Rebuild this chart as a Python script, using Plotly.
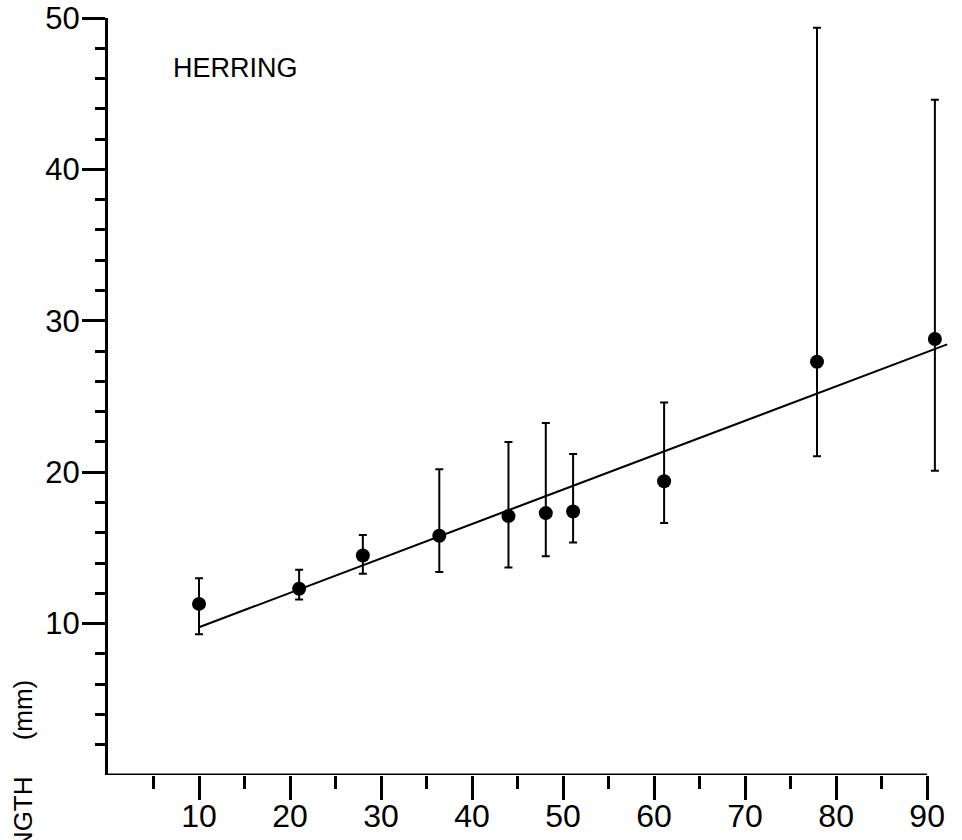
import plotly.graph_objects as go

# Data
age_x = [10, 21, 28, 36.4, 44, 48.1, 51.1, 61.1, 77.9, 90.85]
length_mean = [11.3, 12.3, 14.5, 15.8, 17.1, 17.3, 17.4, 19.4, 27.3, 28.8]
length_upper = [13.0, 13.55, 15.85, 20.2, 22.0, 23.25, 21.2, 24.6, 49.35, 44.6]
length_lower = [9.3, 11.6, 13.3, 13.4, 13.7, 14.45, 15.35, 16.65, 21.05, 20.1]

fit_x = [10, 92.2]
fit_y = [9.76, 28.44]

x_major = [10, 20, 30, 40, 50, 60, 70, 80, 90]
x_minor = [5, 15, 25, 35, 45, 55, 65, 75, 85]
y_major = [10, 20, 30, 40, 50]
y_minor = [2, 4, 6, 8, 12, 14, 16, 18, 22, 24, 26, 28, 32, 34, 36, 38, 42, 44, 46, 48]

err_plus = [u - m for u, m in zip(length_upper, length_mean)]
err_minus = [m - l for m, l in zip(length_mean, length_lower)]

FONT = "Liberation Sans, Arial, sans-serif"

fig = go.Figure()
fig.add_trace(go.Scatter(
    x=fit_x, y=fit_y, mode="lines",
    line=dict(color="black", width=2),
    showlegend=False, hoverinfo="skip", cliponaxis=False,
))
fig.add_trace(go.Scatter(
    x=age_x, y=length_mean, mode="markers",
    marker=dict(color="black", size=14, symbol="circle"),
    error_y=dict(type="data", symmetric=False, array=err_plus, arrayminus=err_minus,
                 color="black", thickness=2, width=4),
    showlegend=False, cliponaxis=False,
))

# x-axis baseline from 0 to 90
fig.add_shape(type="line", xref="x", yref="y", x0=0, x1=90, y0=0, y1=0,
              line=dict(color="black", width=3))

fig.add_annotation(text="HERRING", xref="paper", yref="paper",
                   x=0.0735, y=0.9345, xanchor="left", yanchor="middle",
                   showarrow=False, font=dict(family=FONT, size=27, color="black"))

fig.add_annotation(text="LENGTH\u00a0\u00a0\u00a0\u00a0\u00a0(mm)", xref="paper", yref="paper",
                   x=-0.0999, y=0.1282, xanchor="center", yanchor="top",
                   textangle=-90, showarrow=False,
                   font=dict(family=FONT, size=26, color="black"))

fig.update_layout(
    width=962, height=840,
    margin=dict(l=108, r=3, t=18, b=65, autoexpand=False),
    plot_bgcolor="white", paper_bgcolor="white",
    font=dict(family=FONT, size=31, color="black"),
    xaxis=dict(
        range=[0, 93.5], showgrid=False, zeroline=False, showline=False,
        automargin=False,
        tickmode="array", tickvals=x_major, ticktext=[str(v) for v in x_major],
        ticks="outside", ticklen=24, tickwidth=3, tickcolor="black",
        minor=dict(tickmode="array", tickvals=x_minor, ticks="outside",
                   ticklen=13, tickwidth=3, tickcolor="black", showgrid=False),
        tickfont=dict(family=FONT, size=32, color="black"),
        ticklabeloverflow="allow",
        ticklabelstandoff=-11,
    ),
    yaxis=dict(
        range=[0, 50], showgrid=False, zeroline=False, showline=True,
        linecolor="black", linewidth=3, automargin=False,
        tickmode="array", tickvals=y_major, ticktext=[str(v) for v in y_major],
        ticks="outside", ticklen=23, tickwidth=3, tickcolor="black",
        minor=dict(tickmode="array", tickvals=y_minor, ticks="outside",
                   ticklen=10, tickwidth=3, tickcolor="black", showgrid=False),
        tickfont=dict(family=FONT, size=31, color="black"),
        ticklabeloverflow="allow",
        ticklabelstandoff=-4,
    ),
)

fig.write_html("out.html")
